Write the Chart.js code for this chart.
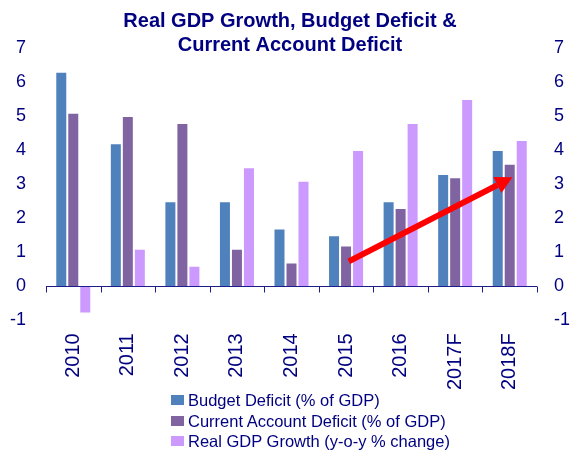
<!DOCTYPE html>
<html>
<head>
<meta charset="utf-8">
<script src="https://cdn.jsdelivr.net/npm/chart.js@4"></script>
<style>
    html, body { margin: 0; padding: 0; background: #fff; }
    #wrap { position: relative; width: 570px; height: 453px; }
    #legend {
        position: absolute; left: 171px; top: 390px;
        font: 16.5px "Liberation Sans", Arial, sans-serif;
        color: #000080; line-height: 20.5px;
    }
    .item { display: flex; align-items: center; white-space: nowrap; }
    .swatch { width: 13px; height: 10px; margin-right: 4px; }
</style>
</head>
<body>
<div id="wrap">
    <canvas id="chart" width="570" height="453"></canvas>
    <div id="legend"></div>
</div>
<script>
const years = ['2010', '2011', '2012', '2013', '2014', '2015', '2016', '2017F', '2018F'];
const budgetDeficit = [6.3, 4.2, 2.5, 2.5, 1.7, 1.5, 2.5, 3.3, 4.0];
const currentAccountDeficit = [5.1, 5.0, 4.8, 1.1, 0.7, 1.2, 2.3, 3.2, 3.6];
const realGdpGrowth = [-0.8, 1.1, 0.6, 3.5, 3.1, 4.0, 4.8, 5.5, 4.3];

// trend arrow: [category index, value]
const arrowStart = [5.05, 0.73];
const arrowEnd = [8.05, 3.2];

const navy = '#000080';
Chart.defaults.font.family = "'Liberation Sans', Arial, sans-serif";
Chart.defaults.color = navy;

// axis line sits at zero, labels stay at the bottom
const zeroAxis = {
    id: 'zeroAxis',
    afterDatasetsDraw(chart) {
        const { ctx } = chart;
        const x = chart.scales.x;
        const y0 = Math.round(chart.scales.y.getPixelForValue(0)) + 0.5;
        ctx.save();
        ctx.strokeStyle = '#1c1c8a';
        ctx.lineWidth = 1;
        ctx.beginPath();
        ctx.moveTo(x.left, y0);
        ctx.lineTo(x.right, y0);
        for (let i = 0; i <= years.length; i++) {
            const px = Math.round(x.getPixelForValue(i - 0.5)) + 0.5;
            ctx.moveTo(px, y0);
            ctx.lineTo(px, y0 + 6);
        }
        ctx.stroke();
        ctx.restore();
    }
};

const trendArrow = {
    id: 'trendArrow',
    afterDatasetsDraw(chart) {
        const { ctx } = chart;
        const x = chart.scales.x, y = chart.scales.y;
        const x1 = x.getPixelForValue(arrowStart[0]), y1 = y.getPixelForValue(arrowStart[1]);
        const x2 = x.getPixelForValue(arrowEnd[0]), y2 = y.getPixelForValue(arrowEnd[1]);
        const ang = Math.atan2(y2 - y1, x2 - x1);
        const headLen = 17, headHalf = 9;
        const bx = x2 - headLen * Math.cos(ang), by = y2 - headLen * Math.sin(ang);
        ctx.save();
        ctx.strokeStyle = '#ff0000';
        ctx.fillStyle = '#ff0000';
        ctx.lineWidth = 6;
        ctx.beginPath();
        ctx.moveTo(x1, y1);
        ctx.lineTo(bx, by);
        ctx.stroke();
        ctx.beginPath();
        ctx.moveTo(x2, y2);
        ctx.lineTo(bx + headHalf * Math.sin(ang), by - headHalf * Math.cos(ang));
        ctx.lineTo(bx - headHalf * Math.sin(ang), by + headHalf * Math.cos(ang));
        ctx.closePath();
        ctx.fill();
        ctx.restore();
    }
};

const chart = new Chart(document.getElementById('chart'), {
    type: 'bar',
    data: {
        labels: years,
        datasets: [
            { label: 'Budget Deficit (% of GDP)', data: budgetDeficit, backgroundColor: '#4f81bd' },
            { label: 'Current Account Deficit (% of GDP)', data: currentAccountDeficit, backgroundColor: '#8064a2' },
            { label: 'Real GDP Growth (y-o-y % change)', data: realGdpGrowth, backgroundColor: '#cc99ff' }
        ]
    },
    options: {
        responsive: false,
        animation: false,
        datasets: {
            bar: {
                categoryPercentage: 0.66,
                barPercentage: 1,
                borderWidth: 1,
                borderColor: 'rgba(255, 255, 255, 0.35)'
            }
        },
        layout: { padding: { left: 10, right: 0, top: 0, bottom: 50 } },
        scales: {
            x: {
                grid: { display: false, drawTicks: false },
                border: { display: false },
                ticks: {
                    autoSkip: false, minRotation: 90, maxRotation: 90,
                    padding: 13, font: { size: 20 }, color: navy
                },
                // rotated labels should not squeeze the plot sideways
                afterFit(scale) {
                    scale.paddingLeft = 0;
                    scale.paddingRight = 0;
                }
            },
            y: {
                min: -1, max: 7,
                grid: { display: false, drawTicks: false },
                border: { display: false },
                ticks: { stepSize: 1, padding: 20, font: { size: 18 }, color: navy },
                afterFit(scale) { scale.width = 36; }
            },
            y2: {
                position: 'right',
                min: -1, max: 7,
                grid: { display: false, drawTicks: false },
                border: { display: false },
                ticks: { stepSize: 1, padding: 17, font: { size: 18 }, color: navy },
                afterFit(scale) { scale.width = 33; }
            }
        },
        plugins: {
            legend: { display: false },
            tooltip: { enabled: false },
            title: {
                display: true,
                text: ['Real GDP Growth, Budget Deficit &', 'Current Account Deficit'],
                color: navy,
                font: { size: 20, weight: 'bold', lineHeight: 1.2 },
                padding: { top: 9, bottom: -9 }
            }
        }
    },
    plugins: [zeroAxis, trendArrow]
});

// legend stacked on the left like the original
const legendEl = document.getElementById('legend');
chart.data.datasets.forEach(ds => {
    const item = document.createElement('div');
    item.className = 'item';
    const sw = document.createElement('span');
    sw.className = 'swatch';
    sw.style.background = ds.backgroundColor;
    const txt = document.createElement('span');
    txt.innerText = ds.label;
    item.appendChild(sw);
    item.appendChild(txt);
    legendEl.appendChild(item);
});
</script>
</body>
</html>
